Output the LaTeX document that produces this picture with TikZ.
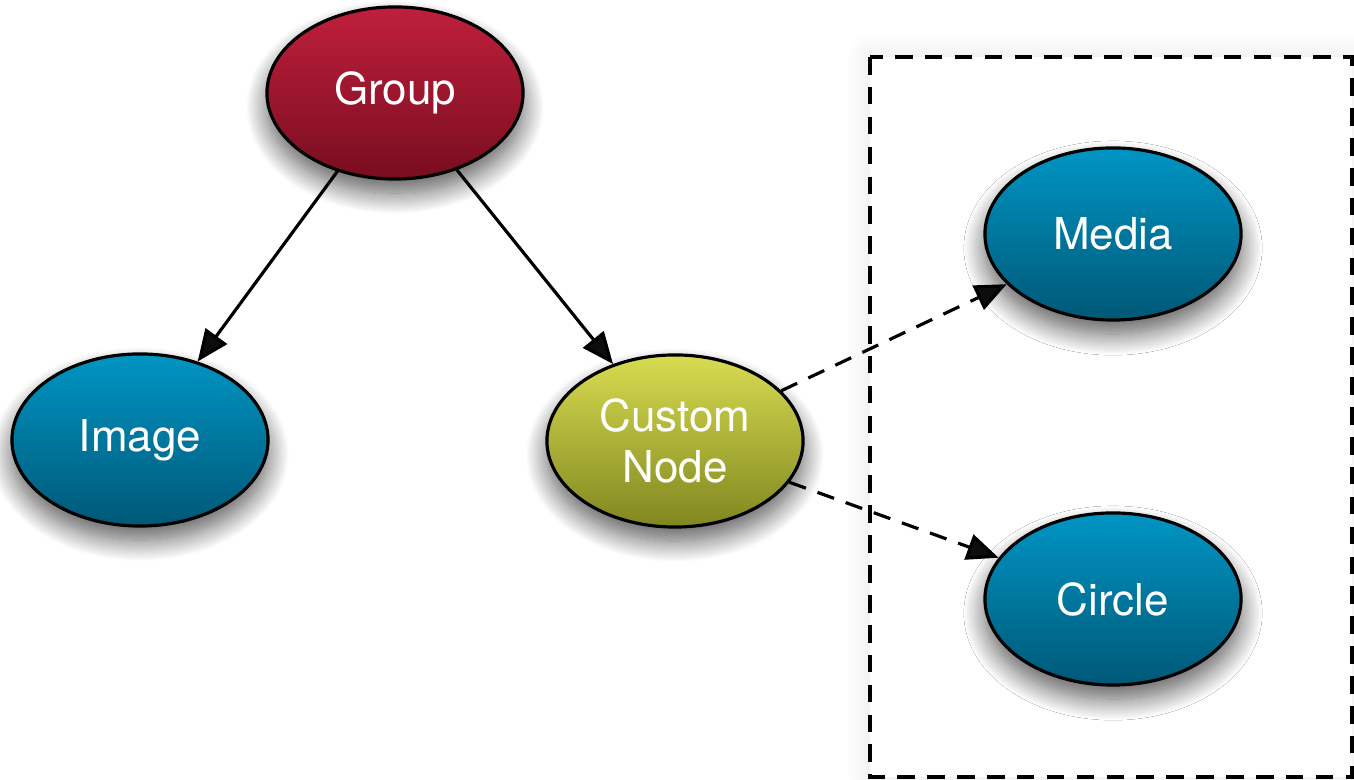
\documentclass[tikz,border=0pt]{standalone}
\usepackage{fontspec}
\setmainfont{TeX Gyre Heros}
\usepackage{tikz}
\usetikzlibrary{positioning, arrows.meta, shapes.geometric, shadows.blur}

\definecolor{grouptop}{HTML}{C01F3C}
\definecolor{groupbot}{HTML}{780D1F}
\definecolor{bluetop}{HTML}{0095C4}
\definecolor{bluebot}{HTML}{005877}
\definecolor{customtop}{HTML}{D8DC50}
\definecolor{custombot}{HTML}{80861F}

\begin{document}
\begin{tikzpicture}[x=0.01cm, y=-0.01cm, line width=0.9pt,
  main/.style = {draw, ellipse, inner sep=0pt, minimum width=2.56cm, minimum height=1.72cm,
    text=white, font=\fontsize{12.5}{14.5}\selectfont, align=center,
    blur shadow={shadow xshift=0pt, shadow yshift=-4pt, shadow blur radius=6pt,
      shadow blur steps=20, shadow opacity=65}},
  grp/.style = {main, top color=grouptop, bottom color=groupbot},
  leaf/.style = {main, top color=bluetop, bottom color=bluebot},
  custom/.style = {main, top color=customtop, bottom color=custombot},
  edge/.style = {-{Triangle[length=9pt, width=7.5pt]}},
  link/.style = {edge, dash pattern=on 5pt off 3.5pt}]
\useasboundingbox (0,0) rectangle (1354,780);

% dashed box round the media nodes
\draw[dash pattern=on 5pt off 3.5pt, fill=white,
  blur shadow={shadow xshift=0pt, shadow yshift=0pt, shadow blur radius=7pt,
    shadow blur steps=15, shadow opacity=10}]
  (870,57) rectangle (1352,777);

\node[grp] (g1) at (395,93) {Group};
\node[leaf] (i1) at (140,440) {Image};
\node[custom] (c1) at (675,441) {Custom\\Node};
\node[leaf] (m1) at (1113,234) {Media};
\node[leaf] (r1) at (1113,599) {Circle};

\draw[edge] (g1) -- (i1);
\draw[edge] (g1) -- (c1);
\draw[link] (c1) -- (m1);
\draw[link] (c1) -- (r1);
\end{tikzpicture}
\end{document}
